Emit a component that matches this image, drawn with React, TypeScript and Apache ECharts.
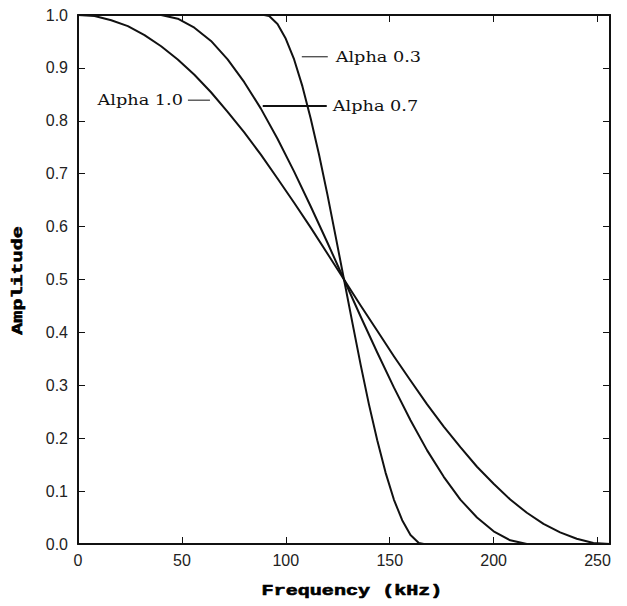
import React, { useEffect, useRef } from "react";
import * as echarts from "echarts";

// Alpha 1.0 curve (frequency kHz, amplitude)
const FREQ_A10 = [0, 8, 16, 24, 32, 40, 48, 56, 64, 72, 80, 88, 96, 104, 112, 120, 128, 136, 144, 152, 160, 168, 176, 184, 192, 200, 208, 216, 224, 232, 240, 248, 256];
const AMP_A10 = [1.0, 0.998, 0.99, 0.979, 0.962, 0.941, 0.916, 0.887, 0.854, 0.817, 0.778, 0.736, 0.691, 0.645, 0.598, 0.549, 0.5, 0.451, 0.403, 0.355, 0.309, 0.264, 0.222, 0.183, 0.146, 0.114, 0.084, 0.059, 0.038, 0.022, 0.01, 0.002, 0.0];

// Alpha 0.7 curve
const FREQ_A07 = [0, 38.4, 40, 48, 56, 64, 72, 80, 88, 96, 104, 112, 120, 128, 136, 144, 152, 160, 168, 176, 184, 192, 200, 208, 216, 217.6, 256];
const AMP_A07 = [1, 1, 1.0, 0.993, 0.976, 0.951, 0.916, 0.873, 0.823, 0.766, 0.704, 0.638, 0.57, 0.5, 0.43, 0.362, 0.296, 0.234, 0.177, 0.127, 0.084, 0.05, 0.024, 0.007, 0.0, 0, 0];

// Alpha 0.3 curve
const FREQ_A03 = [0, 89.6, 92, 96, 100, 104, 108, 112, 116, 120, 124, 128, 132, 136, 140, 144, 148, 152, 156, 160, 164, 166.4, 256];
const AMP_A03 = [1, 1, 0.998, 0.983, 0.955, 0.916, 0.865, 0.804, 0.736, 0.661, 0.581, 0.5, 0.419, 0.339, 0.264, 0.196, 0.135, 0.084, 0.045, 0.017, 0.002, 0, 0];

const X_MIN = 0;
const X_MAX = 256;
const X_INTERVAL = 50;
const Y_MIN = 0;
const Y_MAX = 1;
const Y_INTERVAL = 0.1;

const LABELS = ["Alpha 0.3", "Alpha 0.7", "Alpha 1.0"];
// annotation anchors in data units: [lineStartF, lineEndF, amplitude, textF]
const ANN_A03 = [107.7, 120.2, 0.921, 124.0];
const ANN_A07 = [88.9, 119.7, 0.828, 122.6];
const ANN_A10 = [52.9, 63.5, 0.839, 50.5];

const INK = "#111";

function pairs(xs: number[], ys: number[]) {
  return xs.map((x, i) => [x, ys[i]]);
}

export default function App() {
  const ref = useRef<HTMLDivElement>(null);
  useEffect(() => {
    if (!ref.current) return;
    const chart = echarts.init(ref.current, null, { renderer: "svg" });
    const tickLabel = { fontFamily: "Liberation Sans", fontSize: 16, color: "#222" };
    const lineSeries = (name: string, data: number[][]) => ({
      name,
      type: "line",
      data,
      showSymbol: false,
      smooth: false,
      lineStyle: { color: INK, width: 2, join: "round" },
      z: 3,
    });
    chart.setOption({
      animation: false,
      backgroundColor: "#fff",
      grid: { left: 78, right: 17, top: 15, bottom: 62 },
      xAxis: [
        {
          type: "value",
          min: X_MIN,
          max: X_MAX,
          interval: X_INTERVAL,
          position: "bottom",
          axisLine: { show: true, onZero: false, lineStyle: { color: INK, width: 2 } },
          axisTick: { show: true, inside: true, length: 7, lineStyle: { color: INK, width: 1 } },
          axisLabel: {
            ...tickLabel,
            margin: 8,
            formatter: (v: number) => (v % 50 === 0 ? String(v) : ""),
          },
          splitLine: { show: false },
        },
        {
          type: "value",
          min: X_MIN,
          max: X_MAX,
          interval: X_INTERVAL,
          position: "top",
          axisLine: { show: true, onZero: false, lineStyle: { color: INK, width: 2 } },
          axisTick: { show: true, inside: true, length: 7, lineStyle: { color: INK, width: 1 } },
          axisLabel: { show: false },
          splitLine: { show: false },
        },
      ],
      yAxis: [
        {
          type: "value",
          min: Y_MIN,
          max: Y_MAX,
          interval: Y_INTERVAL,
          position: "left",
          axisLine: { show: true, onZero: false, lineStyle: { color: INK, width: 2 } },
          axisTick: { show: true, inside: true, length: 7, lineStyle: { color: INK, width: 1 } },
          axisLabel: { ...tickLabel, margin: 10, formatter: (v: number) => v.toFixed(1) },
          splitLine: { show: false },
        },
        {
          type: "value",
          min: Y_MIN,
          max: Y_MAX,
          interval: Y_INTERVAL,
          position: "right",
          axisLine: { show: true, onZero: false, lineStyle: { color: INK, width: 2 } },
          axisTick: { show: true, inside: true, length: 7, lineStyle: { color: INK, width: 1 } },
          axisLabel: { show: false },
          splitLine: { show: false },
        },
      ],
      series: [
        lineSeries(LABELS[0], pairs(FREQ_A03, AMP_A03)),
        lineSeries(LABELS[1], pairs(FREQ_A07, AMP_A07)),
        lineSeries(LABELS[2], pairs(FREQ_A10, AMP_A10)),
      ],
    });

    const px = (f: number, a: number) => chart.convertToPixel({ gridIndex: 0 }, [f, a]) as number[];
    const annFont = '15px "DejaVu Serif"';
    const titleFont = 'bold 15px "Liberation Mono"';
    const mk = (ann: number[], label: string, width: number, right: boolean) => {
      const p1 = px(ann[0], ann[2]);
      const p2 = px(ann[1], ann[2]);
      const pt = px(ann[3], ann[2]);
      return [
        {
          type: "line",
          shape: { x1: p1[0], y1: p1[1], x2: p2[0], y2: p2[1] },
          style: { stroke: INK, lineWidth: width },
          z: 10,
        },
        {
          type: "text",
          x: pt[0],
          y: pt[1],
          scaleX: 1.18,
          style: {
            text: label,
            font: annFont,
            fill: INK,
            textAlign: right ? "right" : "left",
            textVerticalAlign: "middle",
          },
          z: 10,
        },
      ];
    };
    const gLeft = 78;
    const gRight = 627 - 17;
    const gTop = 15;
    const gBottom = 606 - 62;
    chart.setOption({
      graphic: [
        ...mk(ANN_A03, LABELS[0], 1, false),
        ...mk(ANN_A07, LABELS[1], 2, false),
        ...mk(ANN_A10, LABELS[2], 1, true),
        {
          type: "text",
          x: (gLeft + gRight) / 2 + 8,
          y: gBottom + 47,
          scaleX: 1.34,
          style: {
            text: "Frequency (kHz)",
            font: titleFont,
            fill: "#000",
            stroke: "#000",
            lineWidth: 0.6,
            textAlign: "center",
            textVerticalAlign: "middle",
          },
        },
        {
          type: "text",
          x: 18,
          y: (gTop + gBottom) / 2 + 1,
          rotation: Math.PI / 2,
          scaleX: 1.34,
          style: {
            text: "Amplitude",
            font: titleFont,
            fill: "#000",
            stroke: "#000",
            lineWidth: 0.6,
            textAlign: "center",
            textVerticalAlign: "middle",
          },
        },
      ],
    });
    return () => chart.dispose();
  }, []);
  return (
    <div
      ref={ref}
      style={{ position: "fixed", left: 0, top: 0, width: 627, height: 606, background: "#fff" }}
    />
  );
}
